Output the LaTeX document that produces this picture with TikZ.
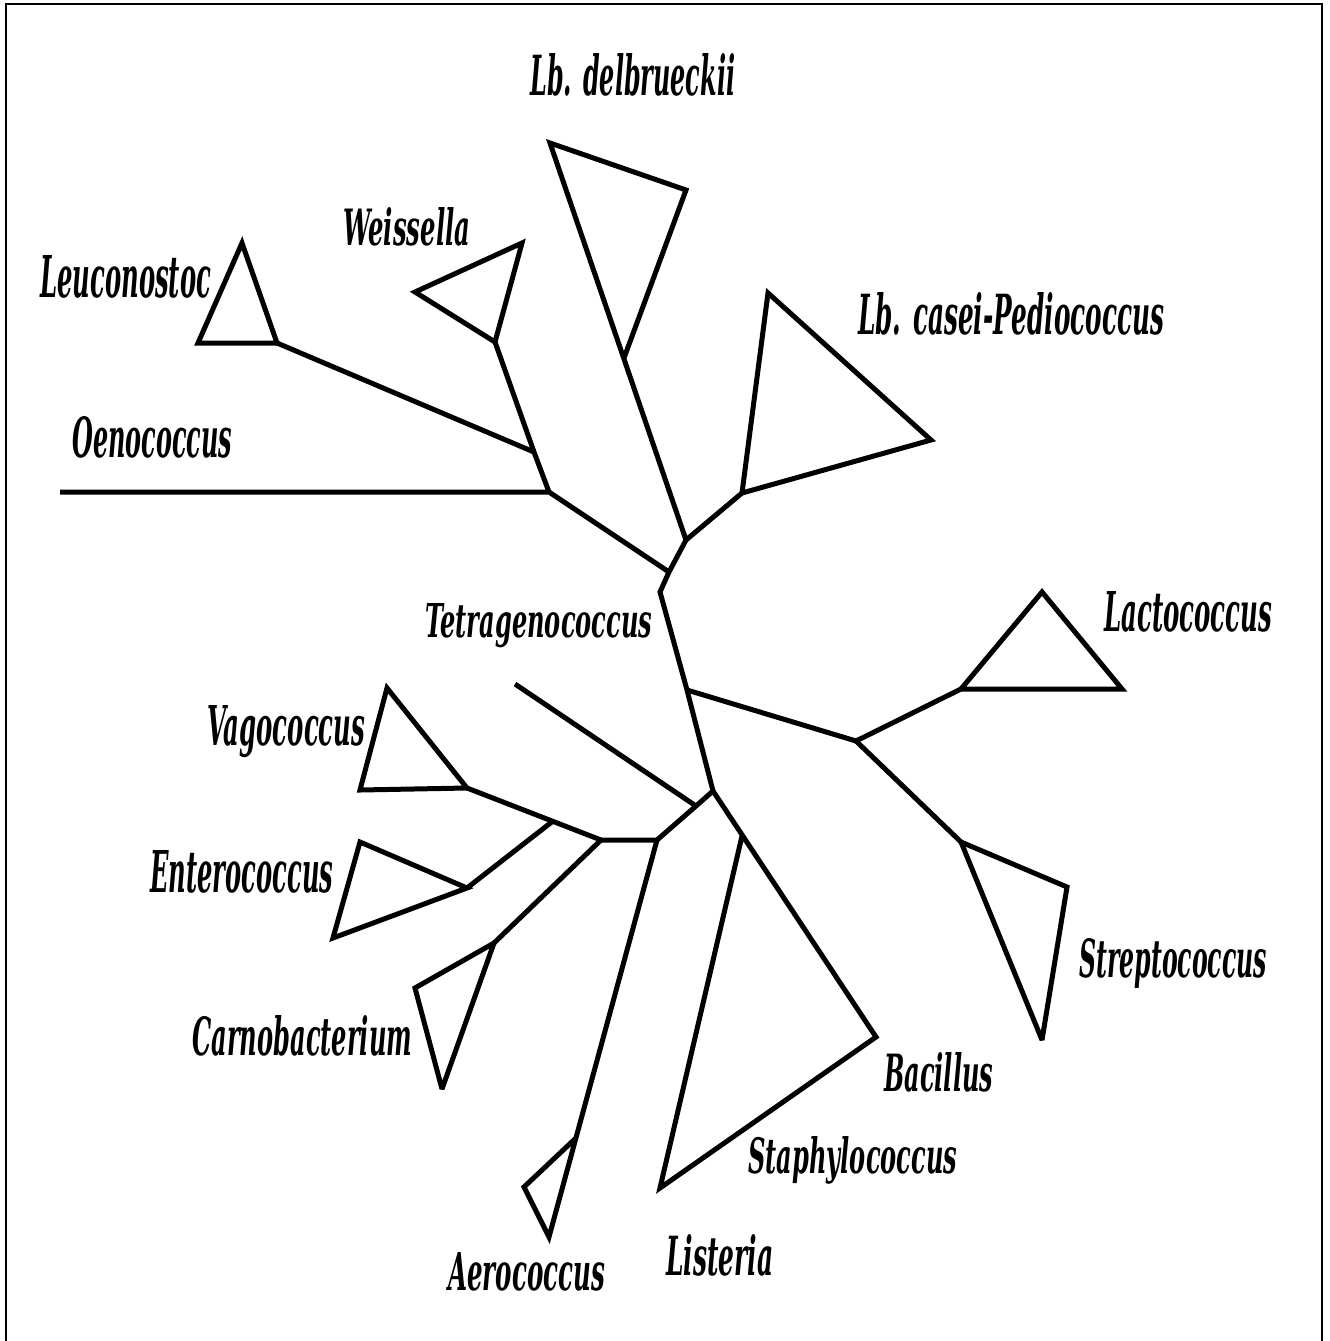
\documentclass[tikz,border=0pt]{standalone}
\usepackage{fontspec}
\setmainfont{DejaVu Serif}
\usepackage{graphicx}
\newcommand{\taxlab}[3]{\resizebox{#1pt}{#2pt}{\bfseries\itshape #3}}
\begin{document}
\begin{tikzpicture}[x=1pt,y=-1pt,
  branch/.style={line width=5pt, line join=miter, miter limit=3, line cap=butt},
  frameline/.style={line width=2.2pt},
  taxon/.style={inner sep=0pt, anchor=base west}]
\useasboundingbox (0,0) rectangle (1330,1341);
\draw[frameline] (6,1341) -- (6,4) -- (1322,4) -- (1322,1341);

% backbone
\coordinate (c1) at (686,540);
\coordinate (c2) at (669,572);
\coordinate (c3) at (660,592);
\coordinate (c4) at (687,690);
\coordinate (c5) at (713,791);
\coordinate (c6) at (696,806);
\coordinate (c7) at (657,840);
\coordinate (c8) at (601,840);
% upper left
\coordinate (o1) at (549,492);
\coordinate (oen) at (60,492);
\coordinate (w1) at (534,452);
\coordinate (w2) at (495,342);
\coordinate (w3) at (415,292);
\coordinate (w4) at (522,243);
\coordinate (l1) at (277,343);
\coordinate (l2) at (198,343);
\coordinate (l3) at (242,243);
% delbrueckii
\coordinate (d1) at (550,143);
\coordinate (d2) at (686,190);
\coordinate (d3) at (624,358);
% casei
\coordinate (k1) at (742,493);
\coordinate (k2) at (768,293);
\coordinate (k3) at (931,440);
% lactococcus / streptococcus
\coordinate (m1) at (856,741);
\coordinate (la1) at (961,689);
\coordinate (la2) at (1042,592);
\coordinate (la3) at (1122,689);
\coordinate (s1) at (961,842);
\coordinate (s2) at (1067,887);
\coordinate (s3) at (1042,1040);
% bacillus / staphylococcus / listeria
\coordinate (b1) at (742,836);
\coordinate (b2) at (876,1037);
\coordinate (b3) at (660,1188);
% tetragenococcus
\coordinate (t1) at (515,684);
% aerococcus
\coordinate (a1) at (576,1138);
\coordinate (a2) at (524,1187);
\coordinate (a3) at (549,1237);
% vagococcus / enterococcus / carnobacterium
\coordinate (v1) at (467,788);
\coordinate (v2) at (360,790);
\coordinate (v3) at (387,688);
\coordinate (e0) at (553,821);
\coordinate (e1) at (467,888);
\coordinate (e2) at (360,842);
\coordinate (e3) at (333,938);
\coordinate (cb1) at (494,943);
\coordinate (cb2) at (415,988);
\coordinate (cb3) at (442,1089);

\draw[branch] (c1) -- (c2) -- (c3) -- (c4) -- (c5) -- (c6) -- (c7) -- (c8);
\draw[branch] (c2) -- (o1) -- (oen);
\draw[branch] (o1) -- (w1) -- (w2);
\draw[branch] (w2) -- (w3) -- (w4) -- cycle;
\draw[branch] (w1) -- (l1);
\draw[branch] (l1) -- (l2) -- (l3) -- cycle;
\draw[branch] (c1) -- (d1) -- (d2) -- (d3);
\draw[branch] (c1) -- (k1);
\draw[branch] (k1) -- (k2) -- (k3) -- cycle;
\draw[branch] (c4) -- (m1) -- (la1);
\draw[branch] (la1) -- (la2) -- (la3) -- cycle;
\draw[branch] (m1) -- (s1);
\draw[branch] (s1) -- (s2) -- (s3) -- cycle;
\draw[branch] (c5) -- (b2) -- (b3) -- (b1);
\draw[branch] (c6) -- (t1);
\draw[branch] (c7) -- (a3) -- (a2) -- (a1);
\draw[branch] (c8) -- (v1);
\draw[branch] (v1) -- (v2) -- (v3) -- cycle;
\draw[branch] (e0) -- (e1);
\draw[branch] (e1) -- (e2) -- (e3) -- cycle;
\draw[branch] (c8) -- (cb1);
\draw[branch] (cb1) -- (cb2) -- (cb3) -- cycle;

% labels
\node[taxon] (delb) at (530,95) {\taxlab{205}{42}{Lb. delbrueckii}};
\node[taxon] (weis) at (343,245) {\taxlab{127}{38}{Weissella}};
\node[taxon] (leuc) at (40,297) {\taxlab{171}{42}{Leuconostoc}};
\node[taxon] (oeno) at (72,457) {\taxlab{160}{41}{Oenococcus}};
\node[taxon] (case) at (858,334) {\taxlab{306}{42}{Lb. casei-Pediococcus}};
\node[taxon] (lact) at (1104,631) {\taxlab{168}{40}{Lactococcus}};
\node[taxon] (tetr) at (425,637) {\taxlab{227}{34}{Tetragenococcus}};
\node[taxon] (vago) at (207,745) {\taxlab{158}{40}{Vagococcus}};
\node[taxon] (ente) at (150,892) {\taxlab{183}{42}{Enterococcus}};
\node[taxon] (carn) at (192,1055) {\taxlab{220}{40}{Carnobacterium}};
\node[taxon] (stre) at (1079,977) {\taxlab{188}{39}{Streptococcus}};
\node[taxon] (baci) at (884,1091) {\taxlab{109}{39}{Bacillus}};
\node[taxon] (stap) at (748,1173) {\taxlab{209}{37}{Staphylococcus}};
\node[taxon] (aero) at (448,1290) {\taxlab{157}{38}{Aerococcus}};
\node[taxon] (list) at (666,1275) {\taxlab{107}{41}{Listeria}};
\end{tikzpicture}
\end{document}
